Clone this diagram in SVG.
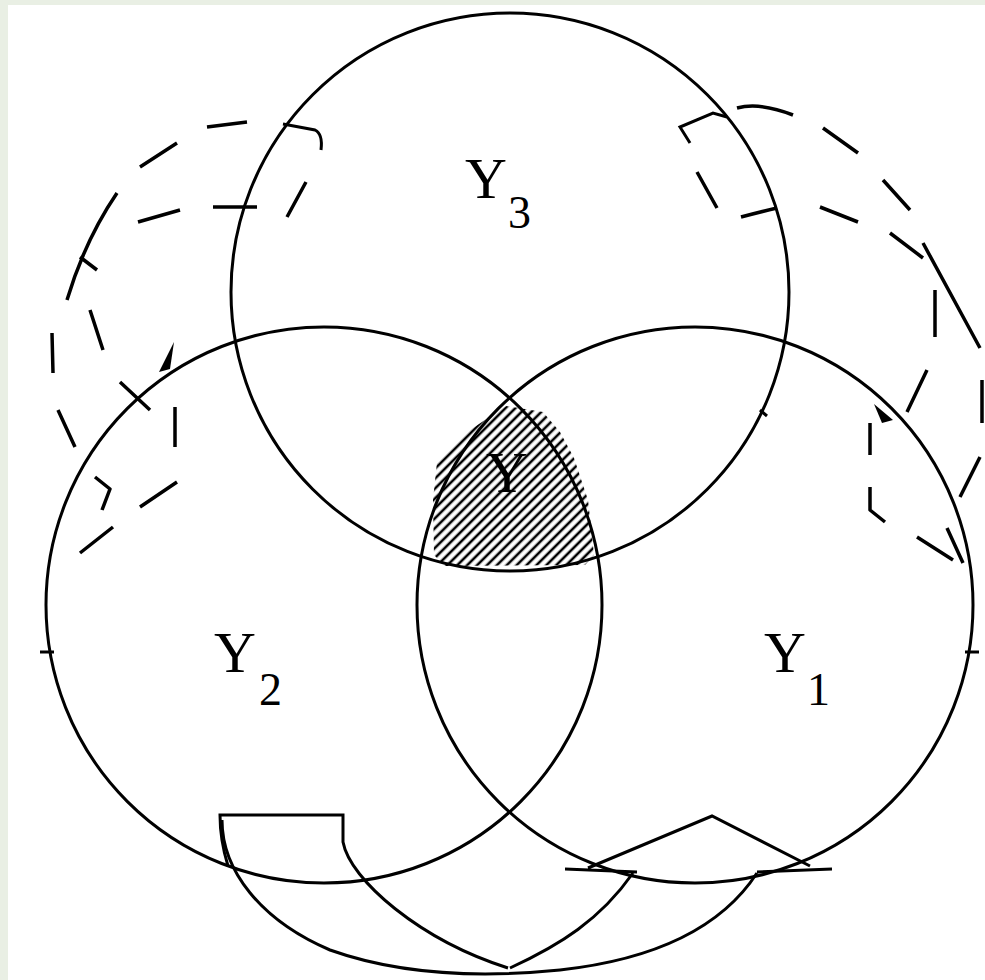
<svg xmlns="http://www.w3.org/2000/svg" width="985" height="980" viewBox="0 0 985 980">
<style>
.c{fill:none;stroke:#000;stroke-width:3}
.d{fill:none;stroke:#000;stroke-width:3.5;stroke-linecap:butt;stroke-linejoin:round}
.s{fill:none;stroke:#000;stroke-width:3;stroke-linejoin:miter}
.lbl{font-family:"Liberation Serif","Times New Roman",serif;font-size:58px;fill:#000}
.sub{font-family:"Liberation Serif","Times New Roman",serif;font-size:46px;fill:#000}
</style>
<defs>
<pattern id="hatch" width="7" height="7" patternUnits="userSpaceOnUse" patternTransform="rotate(45)">
<line x1="2" y1="-1" x2="2" y2="8" stroke="#000" stroke-width="2.6"/>
</pattern>
</defs>
<rect x="0" y="0" width="985" height="980" fill="#e9efe4"/>
<rect x="8" y="5" width="977" height="975" fill="#fff"/>
<g id="hatched-region">
<path d="M506 406 L543 412 L560 432 L574 458 L588 500 L594 555 L585 565 L445 566 L434 555 L433 500 L437 462 L470 430 Z" fill="url(#hatch)"/>
</g>
<g id="circle-Y3"><circle class="c" cx="510" cy="292" r="279"/></g>
<g id="circle-Y2"><circle class="c" cx="324" cy="605" r="278"/><line class="c" x1="40" y1="652" x2="54" y2="652"/></g>
<g id="circle-Y1"><circle class="c" cx="695" cy="605" r="278"/><line class="c" x1="965" y1="652" x2="979" y2="652"/></g>
<g id="labels">
<text class="lbl" x="465" y="198">Y</text><text class="sub" x="508" y="228">3</text>
<text class="lbl" x="214" y="672">Y</text><text class="sub" x="259" y="705">2</text>
<text class="lbl" x="764" y="672">Y</text><text class="sub" x="807" y="705">1</text>
<text class="lbl" x="507" y="492" text-anchor="middle">Y</text>
</g>
<g id="connectors">
<g id="arrow-Y3-Y2">
<path class="s" d="M283 124 L315 130 Q323 134 321 150"/>
<path class="d" d="M207 127 L247 122 M140 167 L177 143 M67 300 Q85 240 117 193 M80 257 L97 270 M52 333 L53 373 M58 410 L75 447 M95 477 L110 489 L102 510 M80 553 L113 527 M213 207 L257 207 M138 222 L180 210 M90 310 L103 350 M120 382 L150 410 M175 407 L175 447 M140 507 L177 482 M287 217 L306 182"/>
<path d="M174 342 L159 372 L170 369 Z" fill="#000"/>
</g>
<g id="arrow-Y3-Y1">
<path class="s" d="M690 143 L680 127 L713 113 L727 117"/>
<path class="d" d="M737 108 Q760 102 793 115 M823 128 L858 153 M883 180 L910 210 M923 243 L980 348 M982 380 L982 423 M960 497 L980 457 M917 537 L953 560 M947 528 L963 563 M697 172 L717 208 M741 217 Q760 212 777 208 M820 207 L858 222 M890 233 L923 258 M935 290 L935 337 M907 412 L927 370 M870 423 L870 455 M870 487 L870 510 L885 522"/>
<path d="M874 404 L893 420 L882 423 Z" fill="#000"/>
<line class="c" x1="760" y1="410" x2="767" y2="416"/>
</g>
<g id="arrow-Y2-Y1">
<path class="s" d="M228 866 Q220 840 220 815 L343 815 L343 842 C350 880 420 940 508 968"/>
<path class="s" d="M222 820 C222 870 260 920 330 950 C400 975 480 978 560 970 C650 960 720 930 757 873"/>
<path class="s" d="M633 873 C600 920 560 945 510 968"/>
<path class="s" d="M565 869 L637 872 M757 872 L832 869 M588 868 L712 816 L810 866"/>
</g>
</g>
</svg>
